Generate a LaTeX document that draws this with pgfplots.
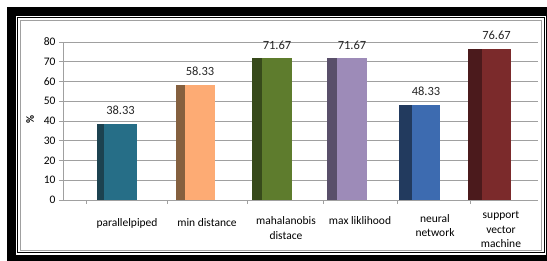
\documentclass[border=0pt]{standalone}
\usepackage{pgfplots}
\pgfplotsset{compat=1.18}
\usepackage{fontspec}
\setmainfont{Carlito}
\definecolor{fA}{RGB}{38,110,135}
\definecolor{sA}{RGB}{28,66,80}
\definecolor{fB}{RGB}{253,171,116}
\definecolor{sB}{RGB}{133,96,63}
\definecolor{fC}{RGB}{94,124,45}
\definecolor{sC}{RGB}{55,74,27}
\definecolor{fD}{RGB}{157,139,184}
\definecolor{sD}{RGB}{89,79,106}
\definecolor{fE}{RGB}{61,107,176}
\definecolor{sE}{RGB}{34,58,94}
\definecolor{fF}{RGB}{123,42,43}
\definecolor{sF}{RGB}{75,26,28}
\definecolor{gridc}{RGB}{160,160,160}
\begin{document}
\begin{tikzpicture}
\useasboundingbox (0pt,0pt) rectangle (547pt,261pt);
\fill[black] (7pt,-10pt) rectangle (560pt,254pt);
\fill[white] (15.5pt,6pt) rectangle (546pt,245pt);
\draw[black, line width=1pt] (17.5pt,8pt) rectangle (544pt,243pt);
\draw[gridc, line width=0.6pt] (20pt,10.5pt) rectangle (541.5pt,240.5pt);
\begin{axis}[
  at={(63pt,61pt)}, anchor=south west,
  scale only axis, width=475pt, height=158pt,
  xmin=63, xmax=538, ymin=0, ymax=80,
  ytick={0,10,...,80},
  ymajorgrids, grid style={gridc, line width=0.6pt},
  axis x line*=bottom, axis y line*=left,
  axis line style={gridc, line width=0.6pt, -},
  tick style={gridc, line width=0.6pt},
  tick align=outside, major tick length=4pt,
  xtick={127,207,286,360,435,501},
  xticklabels={{\rule{0pt}{14.5pt}parallelpiped}, {\rule{0pt}{14.5pt}min distance}, {\rule{0pt}{13pt}mahalanobis\\distace}, {\rule{0pt}{13pt}max liklihood}, {\rule{0pt}{10.5pt}neural\\network}, {support\\vector\\machine}},
  major x tick style={draw=none},
  minor xtick={86,167,247,323,397,470},
  minor tick length=4pt,
  /pgf/number format/assume math mode=true,
  xticklabel style={font=\fontsize{11.5}{14.5}\selectfont, align=center, anchor=north, yshift=-4pt},
  yticklabel style={font=\fontsize{11.5}{13}\selectfont},
  ylabel={\%},
  ylabel style={at={(axis description cs:-0.069,0.51)}, anchor=center, font=\bfseries\fontsize{11}{13}\selectfont},
  front/.style={nodes near coords={\pgfmathprintnumber[fixed,precision=2,fixed zerofill]{\pgfplotspointmeta}},
    every node near coord/.append style={font=\fontsize{12.5}{14}\selectfont, black!85, inner sep=0pt, yshift=9pt}},
]
\addplot[ybar, bar width=7, bar shift=0pt, fill=sA, draw=none] coordinates {(100.5,38.33)};
\addplot[ybar, bar width=33, bar shift=0pt, fill=fA, draw=none, front] coordinates {(120.5,38.33)};
\addplot[ybar, bar width=9, bar shift=0pt, fill=sB, draw=none] coordinates {(180.5,58.33)};
\addplot[ybar, bar width=30, bar shift=0pt, fill=fB, draw=none, front] coordinates {(200,58.33)};
\addplot[ybar, bar width=10, bar shift=0pt, fill=sC, draw=none] coordinates {(257,71.67)};
\addplot[ybar, bar width=30, bar shift=0pt, fill=fC, draw=none, front] coordinates {(277,71.67)};
\addplot[ybar, bar width=10, bar shift=0pt, fill=sD, draw=none] coordinates {(332,71.67)};
\addplot[ybar, bar width=30, bar shift=0pt, fill=fD, draw=none, front] coordinates {(352,71.67)};
\addplot[ybar, bar width=13, bar shift=0pt, fill=sE, draw=none] coordinates {(405.5,48.33)};
\addplot[ybar, bar width=28, bar shift=0pt, fill=fE, draw=none, front] coordinates {(426,48.33)};
\addplot[ybar, bar width=14, bar shift=0pt, fill=sF, draw=none] coordinates {(475,76.67)};
\addplot[ybar, bar width=29, bar shift=0pt, fill=fF, draw=none, front] coordinates {(496.5,76.67)};
\end{axis}
\end{tikzpicture}
\end{document}
